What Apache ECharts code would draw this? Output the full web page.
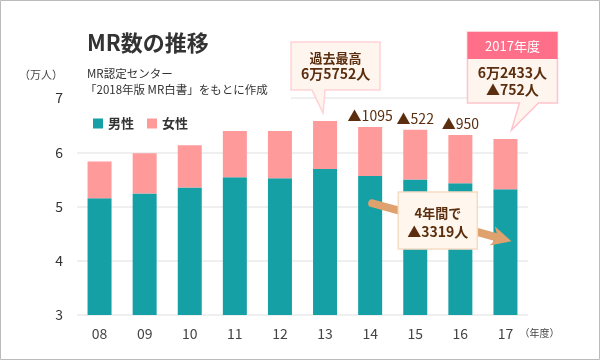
<!DOCTYPE html>
<html>
<head>
<meta charset="utf-8">
<script src="https://cdn.jsdelivr.net/npm/echarts@6/dist/echarts.min.js"></script>
<style>
html,body{margin:0;padding:0;background:#fff;}
#main{width:600px;height:360px;}
</style>
</head>
<body>
<div id="main"></div>
<script>
const categories = ['08','09','10','11','12','13','14','15','16','17'];
const male = [5.15,5.24,5.35,5.54,5.52,5.69,5.56,5.50,5.43,5.32];
const female = [0.68,0.74,0.78,0.85,0.87,0.885,0.906,0.914,0.889,0.923];
const diffLabels = ['','','','','','','▲1095','▲522','▲950',''];
const yTicks = [3,4,5,6,7];
const titleText = 'MR数の推移';
const sourceLines = ['MR認定センター','「2018年版 MR白書」をもとに作成'];
const peakLines = ['過去最高','6万5752人'];
const latestHeader = '2017年度';
const latestLines = ['6万2433人','▲752人'];
const trendLines = ['4年間で','▲3319人'];
const arrowFrom = ['14', 5.06];
const arrowTo = ['17', 4.36];
const trendBoxBetween = ['15','16'];
const trendBoxValue = 4.74;

const FONT = '"Noto Sans CJK JP","Noto Sans",sans-serif';
const TEAL = '#15a0a6', PINK = '#ff9a9b', BROWN = '#5a2e0e';

const chart = echarts.init(document.getElementById('main'));
const option = {
  animation: false,
  textStyle: {fontFamily: FONT},
  grid: {left: 77, right: 72, top: 98, bottom: 45},
  legend: {
    left: 88, top: 112, itemWidth: 10, itemHeight: 10, itemGap: 13, icon: 'rect',
    textStyle: {fontSize: 13, color: '#333', fontWeight: 'bold', fontFamily: FONT},
    data: ['男性','女性'], selectedMode: false
  },
  xAxis: {
    type: 'category', data: categories,
    axisLine: {show: false}, axisTick: {show: false},
    axisLabel: {fontSize: 14, color: '#444', margin: 12, fontFamily: FONT}
  },
  yAxis: {
    type: 'value', min: yTicks[0], max: yTicks[yTicks.length-1], interval: 1,
    axisLine: {show: false}, axisTick: {show: false},
    axisLabel: {fontSize: 14, color: '#333', margin: 14, fontFamily: FONT},
    splitLine: {lineStyle: {color: '#efefef', width: 2}}
  },
  series: [
    {name: '男性', type: 'bar', stack: 't', data: male, barWidth: 24,
     itemStyle: {color: TEAL}, emphasis: {disabled: true}},
    {name: '女性', type: 'bar', stack: 't', data: female, barWidth: 24,
     itemStyle: {color: PINK}, emphasis: {disabled: true},
     label: {show: true, position: 'top', distance: 4,
       formatter: p => diffLabels[p.dataIndex],
       fontSize: 14, color: BROWN, fontFamily: FONT}}
  ]
};
chart.setOption(option);

function px(c, v){ return chart.convertToPixel({gridIndex:0}, [c, v]); }
const g = [];
const top7 = px(categories[0], 7);
const p13 = px(categories[5], male[5]+female[5]);
g.push({type:'rect', z:50, shape:{x:70, y:top7[1]-3, width:(p13[0]-34)-70, height:6}, style:{fill:'#fff'}});
g.push({type:'rect', z:200, shape:{x:0.5, y:0.5, width:599, height:359}, style:{fill:'none', stroke:'#bbb', lineWidth:1}});
g.push({type:'text', z:100, x:87, y:43, style:{text:titleText, font:'bold 22px '+FONT, fill:'#333', textVerticalAlign:'middle'}});
g.push({type:'text', z:100, x:63, y:75, style:{text:'（万人）', font:'11px '+FONT, fill:'#444', textAlign:'right', textVerticalAlign:'middle'}});
g.push({type:'text', z:100, x:87, y:74, style:{text:sourceLines[0], font:'11.5px '+FONT, fill:'#333', textVerticalAlign:'middle'}});
g.push({type:'text', z:100, x:85, y:90, style:{text:sourceLines[1], font:'11.5px '+FONT, fill:'#333', textVerticalAlign:'middle'}});
const p17b = px(categories[9], 3);
g.push({type:'text', z:100, x:p17b[0]+14, y:333, style:{text:'（年度）', font:'10px '+FONT, fill:'#444', textVerticalAlign:'middle'}});

{
  const tx = p13[0]-2, ty = p13[1]-8;
  const x0=tx-32, x1=tx+57, y0=ty-71, y1=ty-23;
  g.push({type:'polygon', z:100, shape:{points:[[x0,y0],[x1,y0],[x1,y1],[tx+2,y1],[tx,ty],[tx-11,y1],[x0,y1]]},
    style:{fill:'#fff5ef', stroke:'#ffd2d6', lineWidth:1.5}});
  const cx=(x0+x1)/2;
  g.push({type:'text', z:101, x:cx, y:ty-55, style:{text:peakLines[0], font:'bold 13px '+FONT, fill:BROWN, textAlign:'center', textVerticalAlign:'middle'}});
  g.push({type:'text', z:101, x:cx, y:ty-39, style:{text:peakLines[1], font:'bold 14px '+FONT, fill:BROWN, textAlign:'center', textVerticalAlign:'middle'}});
}
{
  const p17 = px(categories[9], male[9]+female[9]);
  const tx = p17[0]+6, ty = p17[1]-9;
  const x0=tx-44, x1=tx+46, y0=ty-98, yh=ty-71, y1=ty-27;
  g.push({type:'polygon', z:100, shape:{points:[[x0,y0],[x1,y0],[x1,y1],[tx+27,y1],[tx,ty],[tx+8,y1],[x0,y1]]},
    style:{fill:'#fff5ef', stroke:'#ffc3cc', lineWidth:1.5}});
  g.push({type:'rect', z:101, shape:{x:x0, y:y0, width:x1-x0, height:yh-y0}, style:{fill:'#ff6f89'}});
  const cx=(x0+x1)/2;
  g.push({type:'text', z:102, x:cx, y:ty-84, style:{text:latestHeader, font:'13px '+FONT, fill:'#fff', textAlign:'center', textVerticalAlign:'middle'}});
  g.push({type:'text', z:102, x:cx, y:ty-57, style:{text:latestLines[0], font:'bold 14px '+FONT, fill:BROWN, textAlign:'center', textVerticalAlign:'middle'}});
  g.push({type:'text', z:102, x:cx, y:ty-40, style:{text:latestLines[1], font:'bold 14px '+FONT, fill:BROWN, textAlign:'center', textVerticalAlign:'middle'}});
}
{
  const s = px(arrowFrom[0], arrowFrom[1]);
  const e0 = px(arrowTo[0], arrowTo[1]);
  const s0 = [s[0]+2, s[1]];
  const e = [e0[0]+6, e0[1]];
  const dx=e[0]-s0[0], dy=e[1]-s0[1], L=Math.hypot(dx,dy);
  const ux=dx/L, uy=dy/L, nx=-uy, ny=ux;
  const hl=17, hw=10;
  const bx=e[0]-hl*ux, by=e[1]-hl*uy;
  g.push({type:'line', z:100, shape:{x1:s0[0], y1:s0[1], x2:bx+2*ux, y2:by+2*uy}, style:{stroke:'#dfa16e', lineWidth:8, lineCap:'round'}});
  g.push({type:'polygon', z:100, shape:{points:[[e[0],e[1]],[bx+hw*nx-3*ux,by+hw*ny-3*uy],[bx+3*ux,by+3*uy],[bx-hw*nx-3*ux,by-hw*ny-3*uy]]}, style:{fill:'#dfa16e'}});
  const a = px(trendBoxBetween[0], trendBoxValue), b = px(trendBoxBetween[1], trendBoxValue);
  const c = [(a[0]+b[0])/2, a[1]];
  const bw=79, bh=57;
  g.push({type:'rect', z:101, shape:{x:c[0]-bw/2, y:c[1]-bh/2, width:bw, height:bh}, style:{fill:'#fff6ee', stroke:'#f6dcc2', lineWidth:1.5}});
  g.push({type:'text', z:102, x:c[0], y:c[1]-8, style:{text:trendLines[0], font:'bold 13px '+FONT, fill:BROWN, textAlign:'center', textVerticalAlign:'middle'}});
  g.push({type:'text', z:102, x:c[0], y:c[1]+11, style:{text:trendLines[1], font:'bold 14px '+FONT, fill:BROWN, textAlign:'center', textVerticalAlign:'middle'}});
}
chart.setOption({graphic: g});
</script>
</body>
</html>
